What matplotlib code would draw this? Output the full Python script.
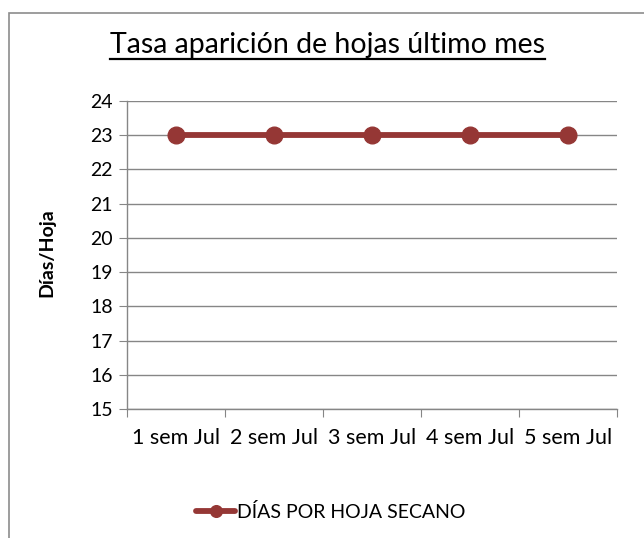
import matplotlib
matplotlib.use('Agg')
import matplotlib.pyplot as plt
from matplotlib.lines import Line2D
from matplotlib.patches import Rectangle

plt.rcParams['font.family'] = ['Lato', 'DejaVu Sans']

# datos
semanas = ['1 sem Jul', '2 sem Jul', '3 sem Jul', '4 sem Jul', '5 sem Jul']
dias_por_hoja = [23, 23, 23, 23, 23]
serie = 'DÍAS POR HOJA SECANO'
titulo = 'Tasa aparición de hojas último mes'

W, H = 644, 538
fig = plt.figure(figsize=(W / 100, H / 100), dpi=100)

# marco del gráfico (se sale por la derecha y abajo)
fig.patches.append(Rectangle((9 / W, -0.1), 1.0, 1 - 13 / H + 0.1, transform=fig.transFigure,
                             fill=False, edgecolor='#8c8c8c', linewidth=1.2))

ax = fig.add_axes([127 / W, 1 - 409 / H, (617 - 127) / W, (409 - 101) / H])
x = [i + 0.5 for i in range(len(semanas))]
ax.plot(x, dias_por_hoja, color='#953735', linewidth=4.2, marker='o', markersize=12,
        label=serie, solid_capstyle='round')

ax.set_xlim(0, len(semanas))
ax.set_ylim(15, 24)
ax.set_yticks(range(15, 25))
ax.set_xticks(range(len(semanas) + 1))
ax.set_xticklabels([])
ax.set_xticks(x, minor=True)
ax.set_xticklabels(semanas, minor=True)
ax.tick_params(axis='x', which='minor', length=0, pad=14, labelsize=15.5)
ax.tick_params(axis='x', which='major', length=6, color='#868686', direction='out')
ax.tick_params(axis='y', length=6, color='#868686', direction='out', labelsize=14, pad=4)

ax.grid(axis='y', color='#868686', linewidth=1)
ax.set_axisbelow(True)
for s in ['top', 'right']:
    ax.spines[s].set_visible(False)
for s in ['left', 'bottom']:
    ax.spines[s].set_color('#868686')
    ax.spines[s].set_linewidth(1)

fig.text(47 / W, 1 - 253 / H, 'Días/Hoja', rotation=90, fontsize=14, fontweight='bold',
         ha='center', va='center')

t = fig.text(327 / W, 1 - 45 / H, titulo, fontsize=20.5, ha='center', va='center')
fig.canvas.draw()
bb = t.get_window_extent().transformed(fig.transFigure.inverted())
fig.lines.append(Line2D([bb.x0, bb.x1], [bb.y0 - 1 / H, bb.y0 - 1 / H],
                        transform=fig.transFigure, color='black', linewidth=1.6))

fig.legend(loc='center', bbox_to_anchor=(331 / W, 1 - 512 / H), frameon=False,
           fontsize=14, handlelength=2.0, handletextpad=0.1, markerscale=0.7)

fig.savefig('out.png', dpi=100)
